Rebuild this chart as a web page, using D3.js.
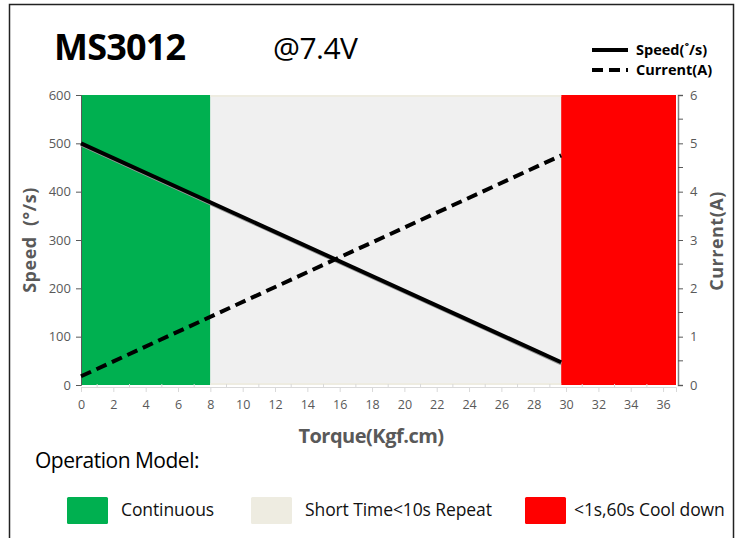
<!DOCTYPE html>
<html>
<head>
<meta charset="utf-8">
<script src="https://cdnjs.cloudflare.com/ajax/libs/d3/7.8.5/d3.min.js"></script>
<style>
    body { margin: 0; background: #fff; }
    text { font-family: "Open Sans", Calibri, sans-serif; }
</style>
</head>
<body>
<div id="chart"></div>
<script>
"use strict";

// data
var speedPoints = [[0, 500], [29.7, 47]];        // torque, speed (deg/s)
var currentPoints = [[0, 0.18], [29.7, 4.75]];   // torque, current (A)
var zoneNames = ["Continuous", "Short Time<10s Repeat", "<1s,60s Cool down"];
var zoneStart = [0, 8, 29.7];
var zoneEnd = [8, 29.7, 36.8];
var zoneColors = ["#00b050", "#f0f0f0", "#ff0000"];
var swatchColors = ["#00b050", "#eeece1", "#ff0000"];
var xTicks = d3.range(0, 37, 2);
var speedTicks = [0, 100, 200, 300, 400, 500, 600];
var currentTicks = [0, 1, 2, 3, 4, 5, 6];

var width = 738, height = 538;
var plot = { left: 81, right: 676, top: 95, bottom: 385 };

var svg = d3.select("#chart").append("svg")
    .attr("width", width)
    .attr("height", height);

// outer frame (left, top, right edges)
svg.append("path")
    .attr("d", "M9.5,538 V4.5 H733.5 V538")
    .attr("fill", "none")
    .attr("stroke", "#222")
    .attr("stroke-width", 1.5);

var x = d3.scaleLinear().domain([0, 36.8]).range([plot.left, plot.right]);
var ySpeed = d3.scaleLinear().domain([0, 600]).range([plot.bottom, plot.top]);
var yCurrent = d3.scaleLinear().domain([0, 6]).range([plot.bottom, plot.top]);

// plot background
svg.append("rect")
    .attr("x", plot.left).attr("y", plot.top)
    .attr("width", plot.right - plot.left).attr("height", plot.bottom - plot.top)
    .attr("fill", "#f0f0f0");

// operation zones
svg.append("g").selectAll("rect")
    .data(zoneNames)
    .join("rect")
    .attr("x", function (d, i) { return x(zoneStart[i]); })
    .attr("y", plot.top)
    .attr("width", function (d, i) { return x(zoneEnd[i]) - x(zoneStart[i]); })
    .attr("height", plot.bottom - plot.top)
    .attr("fill", function (d, i) { return zoneColors[i]; });

// beige edges of the middle zone
[plot.top, plot.bottom - 2].forEach(function (yy) {
    svg.append("rect")
        .attr("x", x(zoneStart[1])).attr("y", yy)
        .attr("width", x(zoneEnd[1]) - x(zoneStart[1])).attr("height", 2)
        .attr("fill", "#eeece1");
});

// x axis
var xAxis = svg.append("g")
    .attr("transform", "translate(0," + (plot.bottom + 2) + ")")
    .call(d3.axisBottom(x).tickValues(xTicks).tickSize(5).tickPadding(8));
xAxis.select(".domain").attr("stroke", "#d9d9d9");
xAxis.selectAll(".tick line").attr("stroke", "#d9d9d9");
xAxis.selectAll("text").attr("fill", "#595959").style("font-size", "12.5px");
xAxis.append("g").selectAll("line")
    .data(d3.range(1, 37, 2))
    .join("line")
    .attr("x1", function (d) { return x(d); }).attr("x2", function (d) { return x(d); })
    .attr("y1", -3).attr("y2", 0)
    .attr("stroke", "#d9d9d9");

// left axis
var yLeft = svg.append("g")
    .attr("transform", "translate(" + plot.left + ",0)")
    .call(d3.axisLeft(ySpeed).tickValues(speedTicks).tickSize(5).tickPadding(5));
yLeft.select(".domain").attr("stroke", "#595959");
yLeft.selectAll(".tick line").attr("stroke", "#595959");
yLeft.selectAll("text").attr("fill", "#595959").style("font-size", "13px");

// right axis
var yRight = svg.append("g")
    .attr("transform", "translate(" + (plot.right + 2) + ",0)")
    .call(d3.axisRight(yCurrent).tickValues(currentTicks).tickFormat(d3.format("d"))
        .tickSize(5).tickPadding(7));
yRight.select(".domain").attr("stroke", "#7f7f7f").attr("stroke-width", 1.5);
yRight.selectAll(".tick line").attr("stroke", "#595959");
yRight.selectAll("text").attr("fill", "#595959").style("font-size", "13px");
yRight.append("g").selectAll("line")
    .data(d3.range(0.5, 6, 1))
    .join("line")
    .attr("x1", 0).attr("x2", 5)
    .attr("y1", function (d) { return yCurrent(d); }).attr("y2", function (d) { return yCurrent(d); })
    .attr("stroke", "#595959");

// speed line
var speedLine = d3.line()
    .x(function (d) { return x(d[0]); })
    .y(function (d) { return ySpeed(d[1]); });
svg.append("path")
    .datum(speedPoints)
    .attr("d", speedLine)
    .attr("transform", "translate(0,1.5)")
    .attr("fill", "none")
    .attr("stroke", "#999")
    .attr("stroke-width", 3);
svg.append("path")
    .datum(speedPoints)
    .attr("d", speedLine)
    .attr("fill", "none")
    .attr("stroke", "#000")
    .attr("stroke-width", 4);

// current line
var currentLine = d3.line()
    .x(function (d) { return x(d[0]); })
    .y(function (d) { return yCurrent(d[1]); });
svg.append("path")
    .datum(currentPoints)
    .attr("d", currentLine)
    .attr("fill", "none")
    .attr("stroke", "#000")
    .attr("stroke-width", 4)
    .attr("stroke-dasharray", "11,6");

// titles
svg.append("text")
    .attr("x", 54).attr("y", 60)
    .style("font-size", "36px").style("font-weight", "bold")
    .style("letter-spacing", "-0.8px")
    .text("MS3012");
svg.append("text")
    .attr("x", 273).attr("y", 59)
    .style("font-size", "30px")
    .style("letter-spacing", "-0.5px")
    .text("@7.4V");

// series legend
var seriesLegend = [["Speed(\u02DA/s)", null], ["Current(A)", "11,6"]];
seriesLegend.forEach(function (s, i) {
    var yy = 50 + i * 20;
    svg.append("line")
        .attr("x1", 592).attr("x2", 628)
        .attr("y1", yy).attr("y2", yy)
        .attr("stroke", "#000").attr("stroke-width", 4)
        .attr("stroke-dasharray", s[1]);
    svg.append("text")
        .attr("x", 636).attr("y", yy + 5)
        .style("font-size", "14.5px").style("font-weight", "bold")
        .style("letter-spacing", "0px")
        .text(s[0]);
});

// axis titles
svg.append("text")
    .attr("transform", "translate(36,240) rotate(-90)")
    .attr("text-anchor", "middle")
    .attr("fill", "#595959")
    .style("font-size", "18px").style("font-weight", "bold")
    .style("letter-spacing", "0.5px")
    .attr("xml:space", "preserve")
    .text("Speed  (\u00B0/s)");
svg.append("text")
    .attr("transform", "translate(723,241) rotate(-90)")
    .attr("text-anchor", "middle")
    .attr("fill", "#595959")
    .style("font-size", "18px").style("font-weight", "bold")
    .style("letter-spacing", "0.5px")
    .text("Current(A)");
svg.append("text")
    .attr("x", 371).attr("y", 443)
    .attr("text-anchor", "middle")
    .attr("fill", "#595959")
    .style("font-size", "20px").style("font-weight", "bold")
    .style("letter-spacing", "-0.5px")
    .text("Torque(Kgf.cm)");

// operation model legend
svg.append("text")
    .attr("x", 35).attr("y", 468)
    .style("font-size", "21px")
    .style("letter-spacing", "-0.5px")
    .text("Operation Model:");

var swatchX = [67, 251, 525];
var legend = svg.append("g").selectAll("g")
    .data(zoneNames)
    .join("g")
    .attr("transform", function (d, i) { return "translate(" + swatchX[i] + ",497)"; });
legend.append("rect")
    .attr("width", 41).attr("height", 27).attr("rx", 1.5)
    .attr("fill", function (d, i) { return swatchColors[i]; });
legend.append("text")
    .attr("x", function (d, i) { return i == 2 ? 49 : 54; })
    .attr("y", 19)
    .style("font-size", "17.5px")
    .style("letter-spacing", "-0.1px")
    .attr("fill", "#111")
    .text(function (d) { return d; });
</script>
</body>
</html>
